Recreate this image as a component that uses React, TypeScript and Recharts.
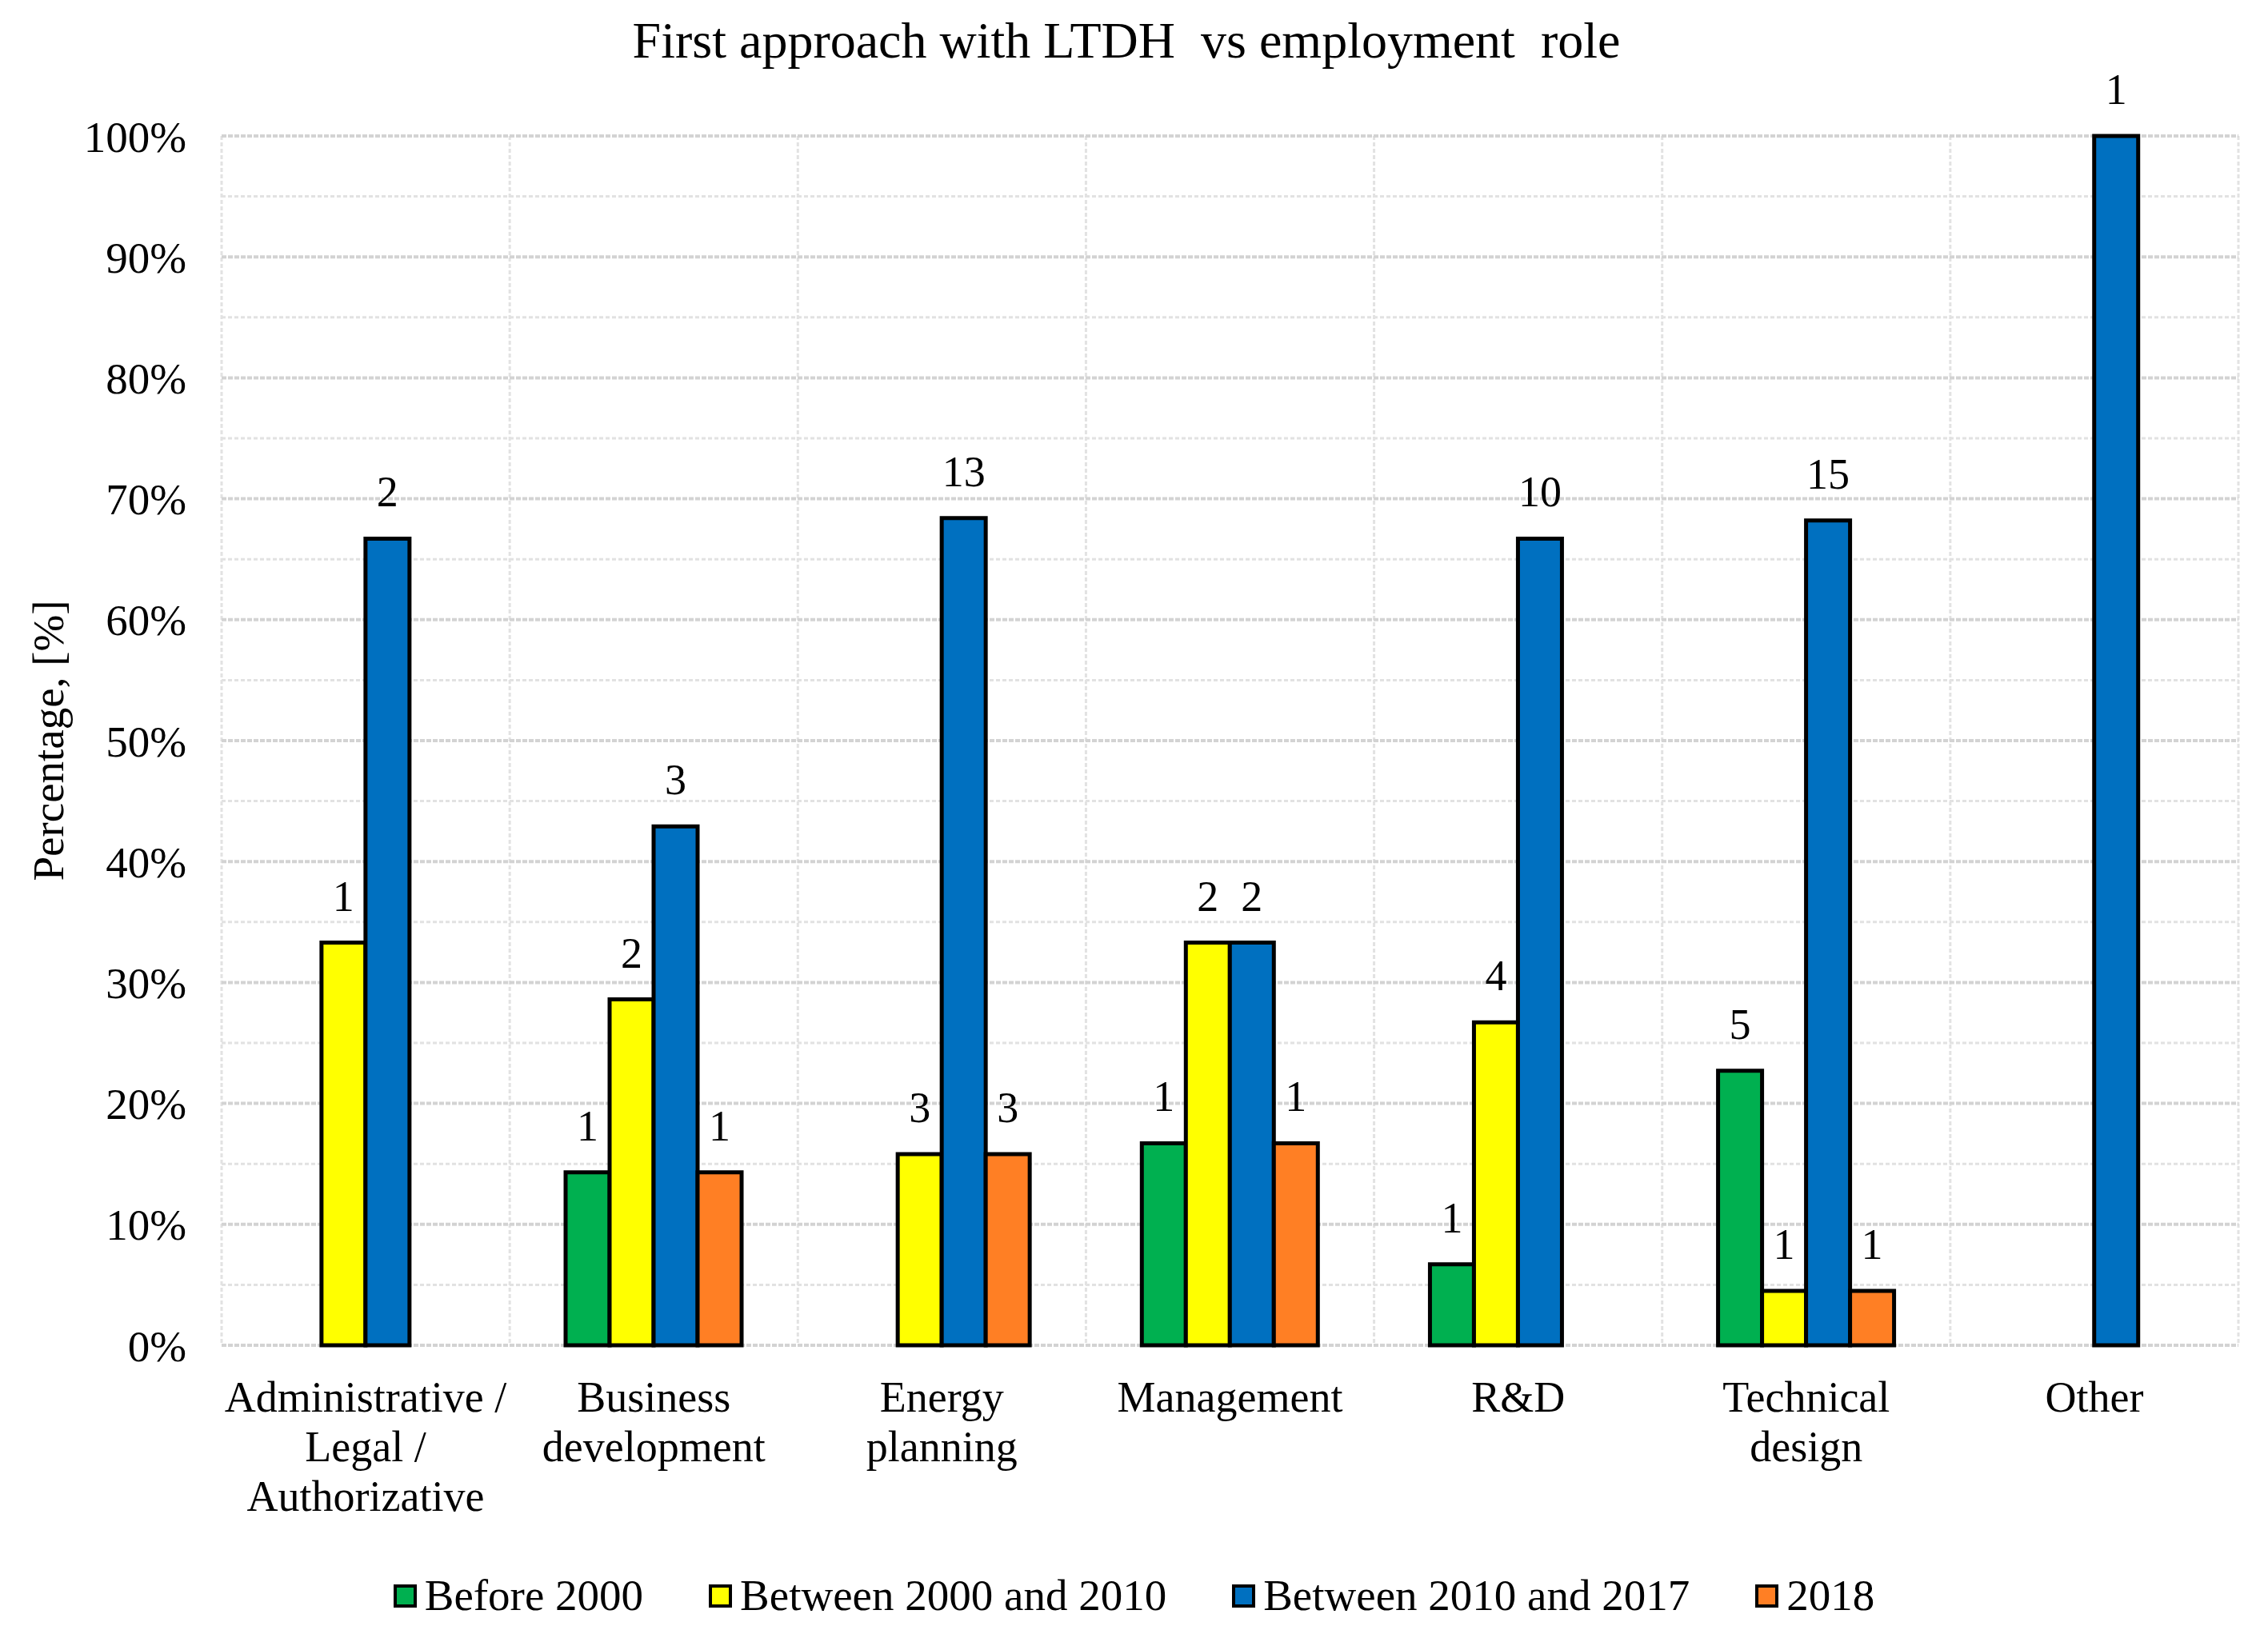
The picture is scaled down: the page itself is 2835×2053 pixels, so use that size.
import React from 'react';
import { BarChart, Bar, XAxis, YAxis, CartesianGrid, Legend, LabelList } from 'recharts';

const FONT = "'Liberation Serif', 'Times New Roman', serif";

const title = 'First approach with LTDH  vs employment  role';
const yTitle = 'Percentage, [%]';

const categories = [
  'Administrative / Legal / Authorizative',
  'Business development',
  'Energy planning',
  'Management',
  'R&D',
  'Technical design',
  'Other',
];
const categoryLines = [
  ['Administrative /', 'Legal /', 'Authorizative'],
  ['Business', 'development'],
  ['Energy', 'planning'],
  ['Management'],
  ['R&D'],
  ['Technical', 'design'],
  ['Other'],
];

// percentages
const before2000 = [0, 14.3, 0, 16.7, 6.7, 22.7, 0];
const between2000and2010 = [33.3, 28.6, 15.8, 33.3, 26.7, 4.5, 0];
const between2010and2017 = [66.7, 42.9, 68.4, 33.3, 66.7, 68.2, 100];
const in2018 = [0, 14.3, 15.8, 16.7, 0, 4.5, 0];

// answer counts shown above the bars
const before2000Count = [null, 1, null, 1, 1, 5, null];
const between2000and2010Count = [1, 2, 3, 2, 4, 1, null];
const between2010and2017Count = [2, 3, 13, 2, 10, 15, 1];
const in2018Count = [null, 1, 3, 1, null, 1, null];

const yMax = 100;
const yTicks = [0, 10, 20, 30, 40, 50, 60, 70, 80, 90, 100];
const minorTicks = [5, 15, 25, 35, 45, 55, 65, 75, 85, 95];

const series = [
  { key: 'before', count: 'beforeN', name: 'Before 2000', color: '#00B050' },
  { key: 'mid', count: 'midN', name: 'Between 2000 and 2010', color: '#FFFF00' },
  { key: 'recent', count: 'recentN', name: 'Between 2010 and 2017', color: '#0070C0' },
  { key: 'y2018', count: 'y2018N', name: '2018', color: '#FF7F24' },
];

const data = categories.map((name, i) => ({
  name,
  before: before2000[i],
  mid: between2000and2010[i],
  recent: between2010and2017[i],
  y2018: in2018[i],
  beforeN: before2000Count[i],
  midN: between2000and2010Count[i],
  recentN: between2010and2017Count[i],
  y2018N: in2018Count[i],
}));

// minor gridlines at the 5% steps
const minorRows = ({ yAxis, offset }: any) => {
  const s = yAxis && yAxis.scale;
  return minorTicks.map((v) => {
    if (typeof s === 'function') return s(v);
    if (s && typeof s.map === 'function') return s.map(v);
    return offset.top + offset.height * (1 - v / yMax);
  });
};

// vertical lines on the category boundaries
const categoryEdges = ({ offset }: any) => [
  ...categories.map((_, i) => offset.left + (i * offset.width) / categories.length),
  offset.left + offset.width,
];

const CategoryTick = (props: any) => {
  const { x, y, payload } = props;
  const idx = categories.indexOf(payload.value);
  const lines = idx >= 0 ? categoryLines[idx] : [payload.value];
  return (
    <text x={x} y={y} textAnchor="middle" fontFamily={FONT} fontSize={54} fill="#000">
      {lines.map((l, i) => (
        <tspan key={i} x={x} dy={i === 0 ? 83 : 62}>
          {l}
        </tspan>
      ))}
    </text>
  );
};

const LegendContent = () => (
  <div
    style={{
      display: 'flex',
      justifyContent: 'center',
      alignItems: 'center',
      fontFamily: FONT,
      fontSize: 55,
      lineHeight: '60px',
      color: '#000',
    }}
  >
    {series.map((s, i) => (
      <div key={s.key} style={{ display: 'flex', alignItems: 'center', marginLeft: i ? 82 : 0 }}>
        <span
          style={{
            display: 'inline-block',
            width: 21,
            height: 21,
            background: s.color,
            border: '4px solid #000',
            marginRight: 10,
          }}
        />
        <span>{s.name}</span>
      </div>
    ))}
  </div>
);

export default function App() {
  return (
    <div style={{ position: 'absolute', top: 0, left: 0, width: 2835, height: 2053, background: '#fff' }}>
      <div
        style={{
          position: 'absolute',
          top: 19,
          left: 0,
          width: 2816,
          textAlign: 'center',
          fontFamily: FONT,
          fontSize: 64,
          lineHeight: '64px',
          whiteSpace: 'pre',
          color: '#000',
        }}
      >
        {title}
      </div>
      <div
        style={{
          position: 'absolute',
          left: 60,
          top: 926,
          transform: 'translate(-50%, -50%) rotate(-90deg)',
          fontFamily: FONT,
          fontSize: 55,
          whiteSpace: 'nowrap',
          color: '#000',
        }}
      >
        {yTitle}
      </div>
      <BarChart
        width={2835}
        height={2053}
        data={data}
        margin={{ top: 170, right: 37, left: 0, bottom: 171 }}
        barCategoryGap="19.4%"
        barGap={0}
      >
        <CartesianGrid
          stroke="#E2E2E2"
          strokeWidth={3}
          strokeDasharray="5 3"
          horizontalCoordinatesGenerator={minorRows}
          verticalCoordinatesGenerator={categoryEdges}
        />
        <CartesianGrid vertical={false} stroke="#D3D3D3" strokeWidth={4} strokeDasharray="6 2" />
        <XAxis
          dataKey="name"
          interval={0}
          height={200}
          tickSize={0}
          tickMargin={0}
          axisLine={false}
          tickLine={false}
          tick={<CategoryTick />}
        />
        <YAxis
          width={277}
          domain={[0, yMax]}
          ticks={yTicks}
          tickFormatter={(v) => `${v}%`}
          tickSize={0}
          tickMargin={44}
          axisLine={false}
          tickLine={false}
          tick={{ fill: '#000', fontSize: 55, fontFamily: FONT }}
        />
        <Legend
          layout="horizontal"
          verticalAlign="middle"
          align="center"
          content={<LegendContent />}
          wrapperStyle={{ top: 1965, left: 0, width: 2835 }}
        />
        {series.map((s) => (
          <Bar
            key={s.key}
            dataKey={s.key}
            name={s.name}
            fill={s.color}
            stroke="#000"
            strokeWidth={5}
            isAnimationActive={false}
          >
            <LabelList dataKey={s.count} position="top" offset={40} fill="#000" fontSize={54} fontFamily={FONT} />
          </Bar>
        ))}
      </BarChart>
    </div>
  );
}
